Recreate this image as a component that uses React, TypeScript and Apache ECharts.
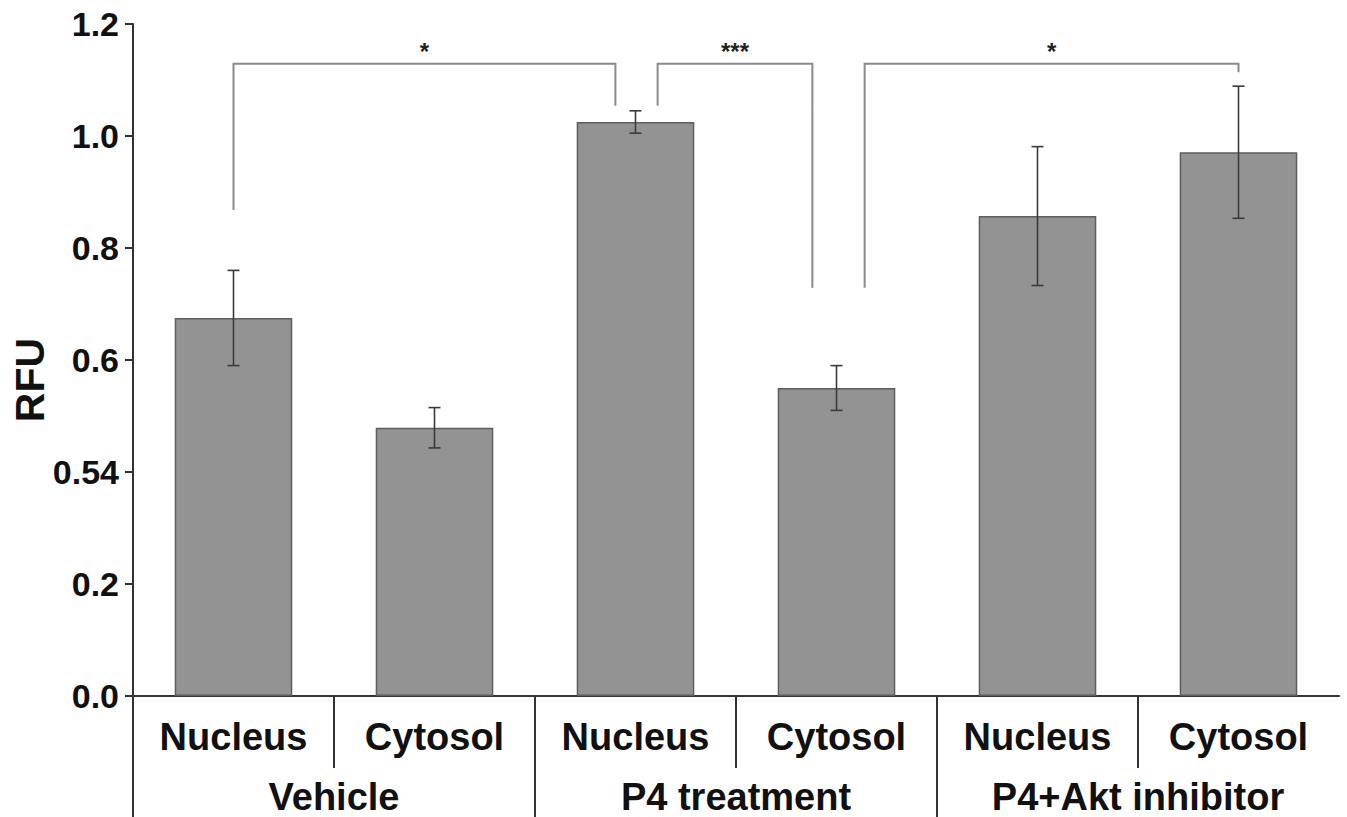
import React, { useEffect, useRef } from "react";
import * as echarts from "echarts";

const categories = ["Nucleus", "Cytosol", "Nucleus", "Cytosol", "Nucleus", "Cytosol"];
const groups = ["Vehicle", "P4 treatment", "P4+Akt inhibitor"];
const rfuValues = [0.675, 0.479, 1.025, 0.55, 0.857, 0.971];
const rfuErrors = [0.085, 0.036, 0.02, 0.04, 0.124, 0.118];
const yTickLabels = ["0.0", "0.2", "0.54", "0.6", "0.8", "1.0", "1.2"];
// brackets: [left x, right x, bar level, left leg end, right leg end]
const bracketLines = [
  [0, 1.9, 1.129, 0.868, 1.054],
  [2.11, 2.88, 1.129, 1.054, 0.729],
  [3.14, 5, 1.129, 0.729, 1.114],
];
const bracketLabels = ["*", "***", "*"];
// separators below axis: [boundary position, long (1) or short (0)]
const separators = [
  [-0.5, 1],
  [0.5, 0],
  [1.5, 1],
  [2.5, 0],
  [3.5, 1],
  [4.5, 0],
];

const FONT = '"Liberation Sans", Arial, Helvetica, sans-serif';

export default function App() {
  const ref = useRef<HTMLDivElement>(null);
  useEffect(() => {
    document.body.style.margin = "0";
    const chart = echarts.init(ref.current!, null, { renderer: "svg" });
    const option: any = {
      animation: false,
      backgroundColor: "#ffffff",
      grid: {
        left: 133,
        right: 8,
        top: 24,
        bottom: 121,
        containLabel: false,
        outerBoundsMode: "none",
      },
      graphic: [
        {
          type: "text",
          x: 30,
          y: 380,
          rotation: Math.PI / 2,
          style: {
            text: "RFU",
            fontSize: 41,
            fontWeight: "bold",
            fontFamily: FONT,
            fill: "#111",
            align: "center",
            verticalAlign: "middle",
          },
        },
      ],
      xAxis: [
        {
          type: "category",
          data: categories,
          axisLine: { show: true, onZero: false, lineStyle: { color: "#333", width: 2 } },
          axisTick: { show: false },
          axisLabel: {
            fontSize: 38,
            fontWeight: "bold",
            fontFamily: FONT,
            color: "#111",
            margin: 22,
            interval: 0,
          },
        },
        {
          type: "category",
          data: groups,
          position: "bottom",
          offset: 0,
          axisLine: { show: false, onZero: false },
          axisTick: { show: false },
          axisLabel: {
            fontSize: 38,
            lineHeight: 30,
            fontWeight: "bold",
            fontFamily: FONT,
            color: "#111",
            margin: 86,
            interval: 0,
          },
        },
        { type: "value", min: -0.5, max: 5.5, show: false, axisLine: { onZero: false } },
      ],
      yAxis: {
        type: "value",
        min: 0,
        max: 1.2,
        interval: 0.2,
        axisLine: { show: true, onZero: false, lineStyle: { color: "#333", width: 2 } },
        axisTick: { show: true, length: 8, lineStyle: { color: "#333", width: 2 } },
        splitLine: { show: false },
        axisLabel: {
          fontSize: 34,
          fontWeight: "bold",
          fontFamily: FONT,
          color: "#111",
          margin: 14,
          formatter: (v: number) => yTickLabels[Math.round(v / 0.2)] ?? "",
        },
      },
      series: [
        {
          type: "bar",
          data: rfuValues,
          barWidth: "58.5%",
          itemStyle: { color: "#939393", borderColor: "#5e5e5e", borderWidth: 1.5 },
        },
        {
          type: "custom",
          xAxisIndex: 2,
          data: rfuValues.map((v, i) => [i, v - rfuErrors[i], v + rfuErrors[i]]),
          z: 5,
          renderItem: (params: any, api: any) => {
            const x = api.value(0);
            const lo = api.coord([x, api.value(1)]);
            const hi = api.coord([x, api.value(2)]);
            const s = { stroke: "#3a3a3a", lineWidth: 1.6 };
            return {
              type: "group",
              children: [
                { type: "line", shape: { x1: lo[0], y1: lo[1], x2: hi[0], y2: hi[1] }, style: s },
                { type: "line", shape: { x1: lo[0] - 6, y1: lo[1], x2: lo[0] + 6, y2: lo[1] }, style: s },
                { type: "line", shape: { x1: hi[0] - 6, y1: hi[1], x2: hi[0] + 6, y2: hi[1] }, style: s },
              ],
            };
          },
        },
        {
          type: "custom",
          xAxisIndex: 2,
          data: bracketLines.map((b, i) => [...b, i]),
          z: 4,
          renderItem: (params: any, api: any) => {
            const x1 = api.value(0);
            const x2 = api.value(1);
            const y = api.value(2);
            const a = api.coord([x1, api.value(3)]);
            const b = api.coord([x1, y]);
            const c = api.coord([x2, y]);
            const d = api.coord([x2, api.value(4)]);
            const t = api.coord([(x1 + x2) / 2, y]);
            const label = bracketLabels[api.value(5)];
            return {
              type: "group",
              children: [
                {
                  type: "polyline",
                  shape: { points: [a, b, c, d] },
                  style: { stroke: "#8a8a8a", lineWidth: 2, fill: "none" },
                },
                {
                  type: "text",
                  style: {
                    text: label,
                    x: t[0],
                    y: t[1] - 12,
                    fill: "#222",
                    fontSize: 24,
                    fontWeight: "bold",
                    fontFamily: FONT,
                    align: "center",
                    verticalAlign: "middle",
                  },
                },
              ],
            };
          },
        },
        {
          type: "custom",
          xAxisIndex: 2,
          data: separators,
          clip: false,
          z: 6,
          renderItem: (params: any, api: any) => {
            const p = api.coord([api.value(0), 0]);
            const len = api.value(1) ? 121 : 72;
            return {
              type: "line",
              shape: { x1: p[0], y1: p[1], x2: p[0], y2: p[1] + len },
              style: { stroke: "#333", lineWidth: 2 },
            };
          },
        },
      ],
    };
    chart.setOption(option);
    return () => chart.dispose();
  }, []);
  return <div ref={ref} style={{ width: 1347, height: 817 }} />;
}
